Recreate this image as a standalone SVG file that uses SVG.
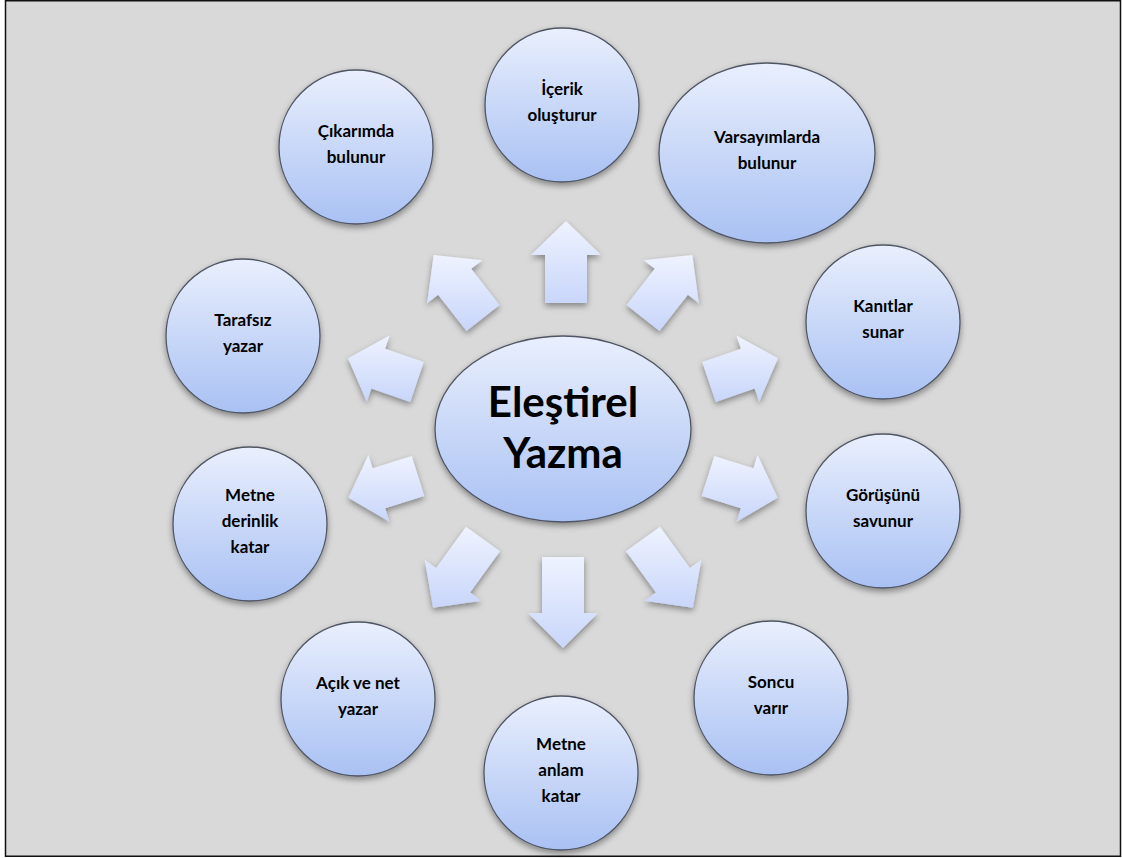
<svg xmlns="http://www.w3.org/2000/svg" width="1122" height="858" viewBox="0 0 1122 858">
<defs>
<linearGradient id="gNode" x1="0" y1="0" x2="0" y2="1">
<stop offset="0" stop-color="#e9effd"/>
<stop offset="1" stop-color="#a9c1f3"/>
</linearGradient>
<linearGradient id="gArrow" x1="0" y1="0" x2="0" y2="1">
<stop offset="0" stop-color="#eff3ff"/>
<stop offset="1" stop-color="#c8d6fa"/>
</linearGradient>
<filter id="sh" x="-20%" y="-20%" width="140%" height="150%">
<feDropShadow dx="0" dy="3" stdDeviation="3" flood-color="#000" flood-opacity="0.4"/>
</filter>
</defs>
<style>
.node{fill:url(#gNode);stroke:#4f5563;stroke-width:1.3;filter:url(#sh)}
.arr{fill:url(#gArrow);stroke:none;filter:url(#sh)}
.t{font-family:Lato,"Liberation Sans",sans-serif;font-weight:bold;font-size:17px;fill:#000;text-anchor:middle}
.title{font-family:Lato,"Liberation Sans",sans-serif;font-weight:bold;font-size:42px;fill:#000;text-anchor:middle}
</style>
<rect x="5.5" y="0.75" width="1115" height="855.5" fill="#d9d9d9" stroke="#111" stroke-width="1.5"/>
<g id="connectors">
<polygon class="arr" points="545,303 545,255 531,255 566,221 601,255 587,255 587,303"/>
<polygon class="arr" points="626.5,305.1 654.8,268.8 643.7,260.2 692.3,255 698.9,303.3 687.9,294.7 659.5,330.9"/>
<polygon class="arr" points="702.2,362.1 740.9,348.8 736.4,335.6 778,358.2 759.2,401.7 754.6,388.5 715.8,401.9"/>
<polygon class="arr" points="714.3,456 753.4,468.3 757.6,454.9 777.6,497.8 736.6,521.7 740.8,508.3 701.7,496"/>
<polygon class="arr" points="660,526.7 689.9,568 701.3,559.8 692.9,607.8 644.6,600.8 655.9,592.6 626,551.3"/>
<polygon class="arr" points="584,557 584,613 598,613 563,648 528,613 542,613 542,557"/>
<polygon class="arr" points="500,551.3 470.1,592.6 481.4,600.8 433.1,607.8 424.7,559.8 436.1,568 466,526.7"/>
<polygon class="arr" points="411.7,456 372.6,468.3 368.4,454.9 348.4,497.8 389.4,521.7 385.2,508.3 424.3,496"/>
<polygon class="arr" points="423.8,362.1 385.1,348.8 389.6,335.6 348,358.2 366.8,401.7 371.4,388.5 410.2,401.9"/>
<polygon class="arr" points="499.5,305.1 471.2,268.8 482.3,260.2 433.7,255 427.1,303.3 438.1,294.7 466.5,330.9"/>
</g>
<g id="center">
<ellipse class="node" cx="563" cy="429" rx="128" ry="93"/>
<text class="title" x="563" y="417">Eleştirel</text>
<text class="title" x="563" y="468">Yazma</text>
</g>
<g id="n1">
<circle class="node" cx="562" cy="105" r="77"/>
<text class="t" x="562" y="95">İçerik</text>
<text class="t" x="562" y="121">oluşturur</text>
</g>
<g id="n2">
<ellipse class="node" cx="767" cy="153" rx="108" ry="90"/>
<text class="t" x="767" y="143">Varsayımlarda</text>
<text class="t" x="767" y="169">bulunur</text>
</g>
<g id="n3">
<circle class="node" cx="883" cy="322" r="77"/>
<text class="t" x="883" y="312">Kanıtlar</text>
<text class="t" x="883" y="338">sunar</text>
</g>
<g id="n4">
<circle class="node" cx="883" cy="511" r="77"/>
<text class="t" x="883" y="501">Görüşünü</text>
<text class="t" x="883" y="527">savunur</text>
</g>
<g id="n5">
<circle class="node" cx="771" cy="698" r="77"/>
<text class="t" x="771" y="688">Soncu</text>
<text class="t" x="771" y="714">varır</text>
</g>
<g id="n6">
<circle class="node" cx="561" cy="773" r="77"/>
<text class="t" x="561" y="750">Metne</text>
<text class="t" x="561" y="776">anlam</text>
<text class="t" x="561" y="802">katar</text>
</g>
<g id="n7">
<circle class="node" cx="358" cy="699" r="77"/>
<text class="t" x="358" y="689">Açık ve net</text>
<text class="t" x="358" y="715">yazar</text>
</g>
<g id="n8">
<circle class="node" cx="250" cy="524" r="77"/>
<text class="t" x="250" y="501">Metne</text>
<text class="t" x="250" y="527">derinlik</text>
<text class="t" x="250" y="553">katar</text>
</g>
<g id="n9">
<circle class="node" cx="243" cy="336" r="77"/>
<text class="t" x="243" y="326">Tarafsız</text>
<text class="t" x="243" y="352">yazar</text>
</g>
<g id="n10">
<circle class="node" cx="356" cy="147" r="77"/>
<text class="t" x="356" y="137">Çıkarımda</text>
<text class="t" x="356" y="163">bulunur</text>
</g>
</svg>
